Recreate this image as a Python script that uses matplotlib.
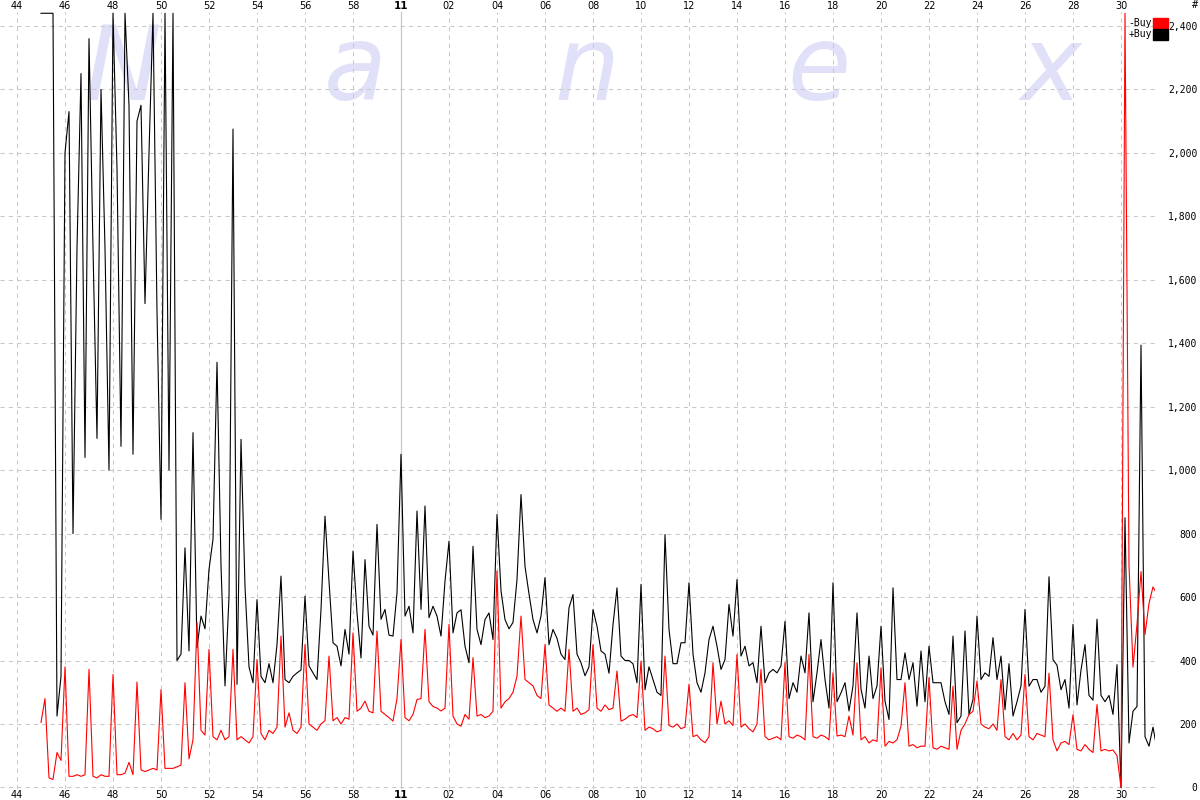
import numpy as np
import matplotlib
matplotlib.use('Agg')
import matplotlib.pyplot as plt
from matplotlib.patches import Rectangle

# ── Data : 10-second buckets starting 10:45:00 ──────────────
start_min = 45          # minutes after 10:00
step_sec = 10

# +Buy (black), one row per minute
plus_buy = [
    2440, 2440, 2440, 2440, 225, 350,      # 10:45
    2000, 2130, 800, 1700, 2250, 1040,     # 10:46
    2360, 1700, 1100, 2200, 1700, 1000,    # 10:47
    2440, 1950, 1075, 2440, 2150, 1050,    # 10:48
    2100, 2150, 1525, 2000, 2440, 1500,    # 10:49
    845, 2440, 1000, 2440, 400, 420,       # 10:50
    755, 430, 1118, 440, 540, 500,         # 10:51
    687, 782, 1340, 700, 320, 600,         # 10:52
    2075, 325, 1097, 634, 380, 330,        # 10:53
    592, 350, 330, 390, 330, 450,          # 10:54
    666, 340, 330, 350, 361, 370,          # 10:55
    603, 383, 361, 340, 560, 855,          # 10:56
    650, 456, 445, 383, 498, 420,          # 10:57
    745, 550, 408, 718, 508, 480,          # 10:58
    829, 530, 561, 480, 477, 613,          # 10:59
    1050, 540, 571, 487, 871, 561,         # 11:00
    887, 535, 571, 540, 477, 650,          # 11:01
    776, 487, 550, 560, 445, 393,          # 11:02
    760, 498, 450, 529, 550, 466,          # 11:03
    860, 620, 529, 500, 520, 655,          # 11:04
    923, 697, 610, 529, 487, 540,          # 11:05
    661, 450, 498, 470, 420, 403,          # 11:06
    566, 608, 420, 393, 352, 380,          # 11:07
    561, 508, 430, 420, 360, 513,          # 11:08
    629, 414, 400, 400, 390, 330,          # 11:09
    640, 308, 380, 340, 300, 290,          # 11:10
    797, 498, 390, 390, 456, 456,          # 11:11
    645, 420, 330, 300, 361, 466,          # 11:12
    508, 445, 372, 403, 577, 477,          # 11:13
    655, 414, 445, 383, 393, 330,          # 11:14
    508, 330, 361, 372, 361, 383,          # 11:15
    523, 280, 330, 300, 414, 361,          # 11:16
    550, 270, 361, 466, 340, 250,          # 11:17
    645, 270, 298, 330, 241, 320,          # 11:18
    550, 310, 250, 414, 280, 320,          # 11:19
    508, 272, 214, 629, 340, 340,          # 11:20
    424, 340, 393, 256, 430, 270,          # 11:21
    445, 330, 330, 330, 270, 230,          # 11:22
    477, 204, 225, 493, 230, 277,          # 11:23
    540, 340, 361, 350, 472, 340,          # 11:24
    414, 245, 390, 225, 270, 320,          # 11:25
    561, 319, 340, 340, 300, 319,          # 11:26
    664, 403, 385, 308, 340, 250,          # 11:27
    514, 260, 370, 450, 290, 275,          # 11:28
    530, 290, 270, 290, 230, 387,          # 11:29
    0, 850, 140, 240, 255, 1394,           # 11:30
    160, 130, 190, 120,                    # 11:31
]

# -Buy (red)
minus_buy = [
    205, 280, 30, 25, 110, 85,             # 10:45
    380, 35, 35, 40, 35, 40,               # 10:46
    372, 35, 30, 40, 35, 35,               # 10:47
    356, 40, 40, 45, 79, 40,               # 10:48
    332, 55, 50, 55, 60, 55,               # 10:49
    308, 60, 60, 60, 65, 70,               # 10:50
    330, 90, 150, 519, 180, 165,           # 10:51
    435, 160, 150, 180, 150, 160,          # 10:52
    435, 150, 160, 150, 140, 160,          # 10:53
    403, 170, 150, 180, 170, 190,          # 10:54
    477, 190, 235, 180, 170, 190,          # 10:55
    450, 200, 190, 180, 200, 210,          # 10:56
    414, 210, 220, 200, 220, 215,          # 10:57
    487, 240, 250, 272, 240, 235,          # 10:58
    493, 240, 230, 220, 209, 280,          # 10:59
    466, 220, 210, 230, 277, 280,          # 11:00
    498, 270, 255, 250, 241, 250,          # 11:01
    514, 225, 200, 193, 230, 215,          # 11:02
    409, 225, 230, 220, 225, 240,          # 11:03
    682, 250, 270, 280, 300, 351,          # 11:04
    540, 340, 330, 320, 290, 280,          # 11:05
    450, 260, 250, 240, 250, 240,          # 11:06
    435, 240, 250, 230, 235, 245,          # 11:07
    450, 250, 240, 260, 245, 250,          # 11:08
    367, 209, 215, 225, 230, 220,          # 11:09
    398, 180, 190, 185, 175, 180,          # 11:10
    414, 195, 190, 200, 185, 190,          # 11:11
    325, 160, 165, 150, 141, 160,          # 11:12
    393, 200, 272, 200, 210, 195,          # 11:13
    419, 190, 200, 185, 175, 200,          # 11:14
    372, 160, 150, 155, 160, 150,          # 11:15
    393, 160, 155, 165, 160, 150,          # 11:16
    419, 160, 155, 165, 160, 150,          # 11:17
    361, 162, 165, 160, 225, 165,          # 11:18
    393, 150, 160, 140, 150, 145,          # 11:19
    377, 130, 145, 140, 150, 193,          # 11:20
    330, 130, 135, 125, 130, 130,          # 11:21
    346, 125, 120, 130, 125, 120,          # 11:22
    319, 120, 180, 200, 230, 240,          # 11:23
    335, 200, 190, 185, 200, 180,          # 11:24
    340, 160, 150, 170, 150, 165,          # 11:25
    356, 160, 150, 170, 165, 160,          # 11:26
    360, 150, 115, 140, 145, 135,          # 11:27
    229, 120, 115, 135, 120, 110,          # 11:28
    261, 115, 120, 115, 118, 100,          # 11:29
    0, 2440, 700, 379, 514, 680,           # 11:30
    482, 580, 632, 609,                    # 11:31
]

tick_minutes = list(range(44, 91, 2))
tick_labels = [str(m) if m < 60 else ('11' if m == 60 else f'{m - 60:02d}')
               for m in tick_minutes]
y_ticks = list(range(0, 2401, 200))
watermark = ['N', 'a', 'n', 'e', 'x']

t = start_min + np.arange(len(plus_buy)) * step_sec / 60.0

# ── Figure ──────────────────────────────────────────────────
W, H = 1200, 800
fig = plt.figure(figsize=(12, 8), dpi=100)
ax = fig.add_axes([0, 11 / H, 1155 / W, 777 / H])

# watermark
for i, ch in enumerate(watermark):
    ax.text((123 + i * 232) / W, 1 - 100 / H, ch, transform=fig.transFigure,
            fontsize=74, style='italic', color='#e0e0f9',
            ha='center', va='baseline', zorder=0.5)

ax.plot(t, plus_buy, color='black', lw=0.8, zorder=3)
ax.plot(t, minus_buy, color='#ff0000', lw=0.8, zorder=4)

ax.set_xlim(44 - 17 / 24, 44 + 1138 / 24)
ax.set_ylim(-5, 2444)

ax.set_xticks(tick_minutes)
ax.set_xticklabels(tick_labels)
ax.set_yticks(y_ticks)
ax.set_yticklabels([f'{v:,}' for v in y_ticks])

ax.grid(True, color='#c8c8c8', linestyle=(0, (4, 4)), linewidth=0.75, zorder=1)
ax.axvline(60, color='#c8c8c8', lw=0.9, zorder=1.2)
for s in ax.spines.values():
    s.set_visible(False)

ax.yaxis.tick_right()
ax.tick_params(axis='y', length=0, pad=30.5, labelsize=7)
for lab in ax.get_yticklabels():
    lab.set_ha('right')
    lab.set_family('DejaVu Sans Mono')
ax.tick_params(axis='x', length=0, labelsize=7, labeltop=True, labelbottom=True,
               pad=0.5)
for tk in ax.xaxis.get_major_ticks():
    if tk.label1.get_text() == '11':
        tk.label1.set_fontweight('bold')
        tk.label2.set_fontweight('bold')
        tk.label1.set_fontsize(7.5)
        tk.label2.set_fontsize(7.5)

# legend + unit
fig.text(1152 / W, 1 - 22.5 / H, '-Buy', ha='right', va='center',
         fontsize=7, family='DejaVu Sans Mono')
fig.text(1152 / W, 1 - 34 / H, '+Buy', ha='right', va='center',
         fontsize=7, family='DejaVu Sans Mono')
fig.patches.append(Rectangle((1153 / W, 1 - 28 / H), 15 / W, 10 / H,
                             transform=fig.transFigure, color='#ff0000'))
fig.patches.append(Rectangle((1153 / W, 1 - 40 / H), 15 / W, 11 / H,
                             transform=fig.transFigure, color='black'))
fig.text(1195 / W, 1 - 5 / H, '#', ha='center', va='center', fontsize=7.5,
         family='DejaVu Sans Mono')

fig.savefig('out.png', dpi=100)
